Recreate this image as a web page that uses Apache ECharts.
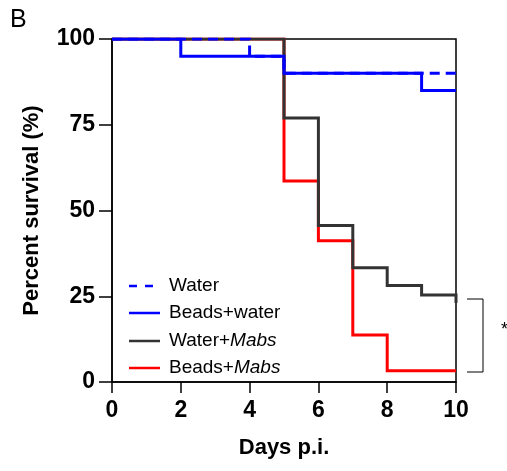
<!DOCTYPE html>
<html>
<head>
<meta charset="utf-8">
<script src="https://cdn.jsdelivr.net/npm/echarts@6/dist/echarts.min.js"></script>
<style>html,body{margin:0;padding:0;background:#fff}#c{width:507px;height:471px}</style>
</head>
<body>
<div id="c"></div>
<script>
// Data (Kaplan-Meier step points: day, percent survival)
var xTicks = [0, 2, 4, 6, 8, 10];
var yTicks = [0, 25, 50, 75, 100];

var waterDays = [0, 4, 5, 10];
var waterVals = [100, 95, 90, 90];

var beadsWaterDays = [0, 2, 5, 9, 10];
var beadsWaterVals = [100, 95, 90, 85, 85];

var waterMabsDays = [0, 5, 6, 7, 8, 9, 10];
var waterMabsVals = [100, 77, 45.6, 33.3, 28.1, 25.4, 23];

var beadsMabsDays = [0, 5, 6, 7, 8, 10];
var beadsMabsVals = [100, 58.6, 41.2, 13.7, 3.3, 3.3];

var legendNames = ['Water', 'Beads+water', 'Water+Mabs', 'Beads+Mabs'];
var legendColors = ['#0000ff', '#0000ff', '#333333', '#ff0000'];
var legendDashed = [true, false, false, false];

function pts(d, v) { return d.map(function (x, i) { return [x, v[i]]; }); }

var FONT = 'Liberation Sans, Arial, sans-serif';
var chart = echarts.init(document.getElementById('c'), null, { renderer: 'canvas' });

function mk(name, d, v, color, dashed) {
  return {
    name: name, type: 'line', step: 'end', data: pts(d, v),
    symbol: 'none', animation: false,
    lineStyle: { color: color, width: 3, type: dashed ? [10, 6] : 'solid', cap: 'butt', join: 'miter' },
    itemStyle: { color: color }
  };
}

// legend drawn as graphic (line sample + text)
var legendGraphics = [];
var legTop = 286, legStep = 27.3;
legendNames.forEach(function (n, i) {
  var y = Math.round(legTop + i * legStep);
  legendGraphics.push({
    type: 'line', shape: { x1: 129, y1: y, x2: 160, y2: y },
    style: { stroke: legendColors[i], lineWidth: 2.5, lineDash: legendDashed[i] ? [8, 8] : null }
  });
  var t = n.indexOf('Mabs') >= 0 ? n.replace('Mabs', '{it|Mabs}') : n;
  legendGraphics.push({
    type: 'text', x: 169, y: y,
    style: {
      text: t, font: '19px ' + FONT, fill: '#000', verticalAlign: 'middle',
      rich: { it: { font: 'italic 19px ' + FONT, fill: '#000' } }
    }
  });
});

chart.setOption({
  backgroundColor: '#fff',
  animation: false,
  grid: { left: 112, right: 51, top: 39, bottom: 89, show: true, borderColor: '#000', borderWidth: 1.5, backgroundColor: 'transparent' },
  xAxis: {
    type: 'value', min: 0, max: 10, interval: 2,
    name: 'Days p.i.', nameLocation: 'middle', nameGap: 55,
    nameTextStyle: { fontFamily: FONT, fontWeight: 'bold', fontSize: 22, color: '#000' },
    axisLine: { onZero: false, lineStyle: { color: '#000', width: 1.5 } },
    axisTick: { show: true, length: 11, lineStyle: { color: '#000', width: 1.5 } },
    axisLabel: { fontFamily: FONT, fontWeight: 'bold', fontSize: 23, color: '#000', margin: 17 },
    splitLine: { show: false }
  },
  yAxis: {
    type: 'value', min: 0, max: 100, interval: 25,
    name: 'Percent survival (%)', nameLocation: 'middle', nameGap: 69, nameRotate: 90,
    nameTextStyle: { fontFamily: FONT, fontWeight: 'bold', fontSize: 22, color: '#000' },
    axisLine: { show: true, lineStyle: { color: '#000', width: 1.5 } },
    axisTick: { show: true, length: 13, lineStyle: { color: '#000', width: 1.5 } },
    axisLabel: { fontFamily: FONT, fontWeight: 'bold', fontSize: 23, color: '#000', margin: 17 },
    splitLine: { show: false }
  },
  graphic: [
    { type: 'text', left: 10, top: 8, style: { text: 'B', font: '25px ' + FONT, fill: '#000' } },
    { type: 'polyline', shape: { points: [[467, 299], [483, 299], [483, 372], [467, 372]] }, style: { stroke: '#000', lineWidth: 1, fill: null } },
    { type: 'text', left: 501, top: 321, style: { text: '*', font: '18px ' + FONT, fill: '#000' } }
  ].concat(legendGraphics),
  series: [
    mk('Beads+Mabs', beadsMabsDays, beadsMabsVals, '#ff0000', false),
    mk('Water+Mabs', waterMabsDays, waterMabsVals, '#333333', false),
    mk('Beads+water', beadsWaterDays, beadsWaterVals, '#0000ff', false),
    mk('Water', waterDays, waterVals, '#0000ff', true)
  ]
});
</script>
</body>
</html>
